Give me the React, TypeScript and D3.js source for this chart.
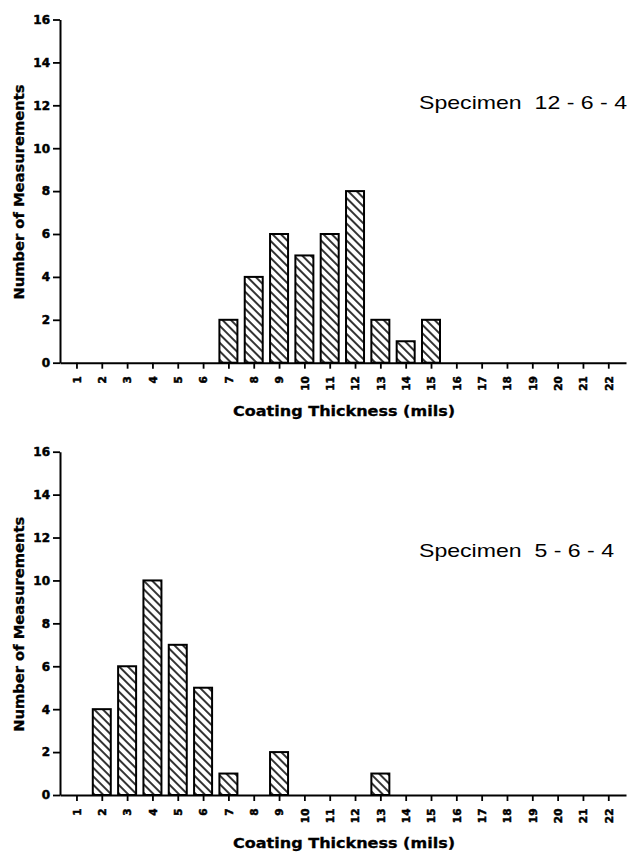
import * as d3 from 'd3';
import React, { useEffect, useRef } from 'react';

// coating thickness bins (mils)
const thicknessBins = [1, 2, 3, 4, 5, 6, 7, 8, 9, 10, 11, 12, 13, 14, 15, 16, 17, 18, 19, 20, 21, 22];
// number of measurements per bin
const countsSpecimen1264 = [0, 0, 0, 0, 0, 0, 2, 4, 6, 5, 6, 8, 2, 1, 2, 0, 0, 0, 0, 0, 0, 0];
const countsSpecimen564 = [0, 4, 6, 10, 7, 5, 1, 0, 2, 0, 0, 0, 1, 0, 0, 0, 0, 0, 0, 0, 0, 0];
const yTicks = [0, 2, 4, 6, 8, 10, 12, 14, 16];

const specimenLabels = ['Specimen  12 - 6 - 4', 'Specimen  5 - 6 - 4'];
const specimenLabelWidths = [208, 195];
const xTitle = 'Coating Thickness (mils)';
const yTitle = 'Number of Measurements';

const WIDTH = 627;
const HEIGHT = 854;
const boldFont = '"DejaVu Sans", sans-serif';
const labelFont = '"Liberation Sans", Arial, sans-serif';

function drawPanel(svg: any, counts: number[], label: string, labelWidth: number, top: number, bottom: number, labelY: number, titleY: number) {
  var x = d3.scaleLinear().domain([0.35, 22.7]).range([60, 626]);
  var y = d3.scaleLinear().domain([0, 16]).range([bottom, top]);
  var barWidth = 18;

  var g = svg.append('g');

  // bars
  var data = thicknessBins.map(function (b, i) { return { bin: b, count: counts[i] }; })
    .filter(function (d) { return d.count > 0; });
  g.selectAll('rect.bar')
    .data(data)
    .enter()
    .append('rect')
    .attr('class', 'bar')
    .attr('x', function (d: any) { return x(d.bin) - barWidth / 2; })
    .attr('y', function (d: any) { return y(d.count); })
    .attr('width', barWidth)
    .attr('height', function (d: any) { return y(0) - y(d.count); })
    .style('fill', 'url(#hatch)')
    .style('stroke', '#000')
    .style('stroke-width', 2);

  // y axis
  var yAxis = d3.axisLeft(y).tickValues(yTicks).tickSize(7).tickPadding(3).tickSizeOuter(0);
  var ya = g.append('g').attr('transform', 'translate(' + x.range()[0] + ',0)').call(yAxis);
  ya.attr('font-size', 12).attr('font-family', boldFont);
  ya.select('.domain').attr('stroke-width', 2);
  ya.selectAll('.tick line').attr('stroke-width', 1.8);
  ya.selectAll('.tick text')
    .attr('font-weight', 'bold')
    .attr('stroke', '#000')
    .attr('stroke-width', 0.5);

  // x axis
  var xAxis = d3.axisBottom(x).tickValues(thicknessBins).tickSize(6).tickSizeOuter(0).tickFormat(d3.format('d'));
  var xa = g.append('g').attr('transform', 'translate(0,' + y(0) + ')').call(xAxis);
  xa.attr('font-size', 10.5).attr('font-family', boldFont);
  xa.select('.domain').attr('stroke-width', 2);
  xa.selectAll('.tick line').attr('stroke-width', 1.8);
  xa.selectAll('.tick text')
    .attr('transform', 'rotate(-90)')
    .attr('x', -13.5)
    .attr('y', 0)
    .attr('dy', '0.36em')
    .attr('text-anchor', 'end')
    .attr('font-weight', 'bold')
    .attr('stroke', '#000')
    .attr('stroke-width', 0.5);

  // specimen label
  g.append('text')
    .attr('x', 419)
    .attr('y', labelY)
    .attr('textLength', labelWidth)
    .attr('lengthAdjust', 'spacingAndGlyphs')
    .style('font-family', labelFont)
    .style('font-size', '19px')
    .style('white-space', 'pre')
    .text(label);

  // x title
  g.append('text')
    .attr('x', 344)
    .attr('y', titleY)
    .attr('text-anchor', 'middle')
    .attr('textLength', 222)
    .attr('lengthAdjust', 'spacingAndGlyphs')
    .style('font-family', boldFont)
    .style('font-weight', 'bold')
    .style('font-size', '13.5px')
    .style('stroke', '#000')
    .style('stroke-width', 0.3)
    .text(xTitle);

  // y title
  var midY = (top + bottom) / 2 + 1;
  g.append('text')
    .attr('transform', 'translate(24,' + midY + ') rotate(-90)')
    .attr('text-anchor', 'middle')
    .attr('textLength', 215)
    .attr('lengthAdjust', 'spacingAndGlyphs')
    .style('font-family', boldFont)
    .style('font-weight', 'bold')
    .style('font-size', '13.5px')
    .style('stroke', '#000')
    .style('stroke-width', 0.3)
    .text(yTitle);
}

function CoatingHistograms() {
  const ref = useRef<HTMLDivElement>(null);

  useEffect(() => {
    var root = d3.select(ref.current);
    root.selectAll('*').remove();
    var svg = root.append('svg')
      .attr('width', WIDTH)
      .attr('height', HEIGHT)
      .style('display', 'block')
      .style('background', '#fff');

    // diagonal hatch fill
    var pattern = svg.append('defs')
      .append('pattern')
      .attr('id', 'hatch')
      .attr('patternUnits', 'userSpaceOnUse')
      .attr('width', 6)
      .attr('height', 6)
      .attr('patternTransform', 'rotate(-45)');
    pattern.append('rect').attr('width', 6).attr('height', 6).attr('fill', '#fff');
    pattern.append('line')
      .attr('x1', 3).attr('y1', 0).attr('x2', 3).attr('y2', 6)
      .attr('stroke', '#000')
      .attr('stroke-width', 1.6);

    drawPanel(svg, countsSpecimen1264, specimenLabels[0], specimenLabelWidths[0], 19.5, 362.7, 108.5, 416);
    drawPanel(svg, countsSpecimen564, specimenLabels[1], specimenLabelWidths[1], 451.7, 795, 556.5, 848);
  }, []);

  return <div ref={ref} style={{ position: 'absolute', left: 0, top: 0 }}></div>;
}

export default function App() {
  return <CoatingHistograms />;
}
